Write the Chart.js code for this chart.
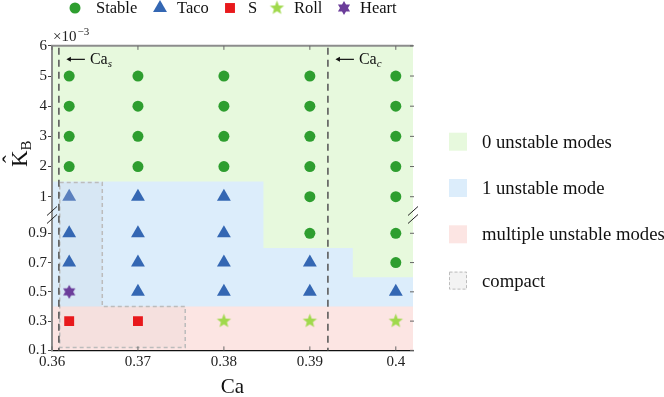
<!DOCTYPE html>
<html>
<head>
<meta charset="utf-8">
<script src="https://cdn.jsdelivr.net/npm/chart.js@4.4.1/dist/chart.umd.min.js"></script>
<style>
  html, body { margin: 0; padding: 0; background: #fff; }
</style>
</head>
<body>
<canvas id="chart" width="664" height="397"></canvas>
<script>
// Ca value and K_B (in units of 1e-3) of every simulated case
const stableCa = [0.362, 0.362, 0.362, 0.362, 0.37, 0.37, 0.37, 0.37, 0.38, 0.38, 0.38, 0.38,
                  0.39, 0.39, 0.39, 0.39, 0.39, 0.39, 0.40, 0.40, 0.40, 0.40, 0.40, 0.40, 0.40];
const stableK  = [2, 3, 4, 5, 2, 3, 4, 5, 2, 3, 4, 5,
                  0.9, 1, 2, 3, 4, 5, 0.7, 0.9, 1, 2, 3, 4, 5];
const tacoCa = [0.362, 0.362, 0.362, 0.37, 0.37, 0.37, 0.37, 0.38, 0.38, 0.38, 0.38, 0.39, 0.39, 0.40];
const tacoK  = [1, 0.9, 0.7, 1, 0.9, 0.7, 0.5, 1, 0.9, 0.7, 0.5, 0.7, 0.5, 0.5];
const sCa = [0.362, 0.37];
const sK  = [0.3, 0.3];
const rollCa = [0.38, 0.39, 0.40];
const rollK  = [0.3, 0.3, 0.3];
const heartCa = [0.362];
const heartK  = [0.5];

// mode regions: green floor steps along Ca, blue above 0.4, red below
const zeroModeCa = [0.36, 0.3846, 0.395, 0.402];
const zeroModeFloorK = [1.5, 0.8, 0.6];
const multiModeTopK = 0.4;
// compact region (L shape)
const compactCa = [0.3609, 0.36585, 0.3755];
const compactK = [1.47, 0.4, 0.12];
const caS = 0.3608;
const caC = 0.3921;

const xTicks = [0.36, 0.37, 0.38, 0.39, 0.40];
const xTickLabels = ['0.36', '0.37', '0.38', '0.39', '0.4'];
const yTicks = [0.1, 0.3, 0.5, 0.7, 0.9, 1, 2, 3, 4, 5, 6];
const yTickLabels = ['0.1', '0.3', '0.5', '0.7', '0.9', '1', '2', '3', '4', '5', '6'];

// broken axis: values below 1 are stretched
const LOW_BOTTOM = -4.094;
const LOW_RATIO = 4.852;
function kAxis(k) {
    return k < 0.95 ? LOW_BOTTOM + (k - 0.1) * LOW_RATIO : k;
}
const BREAK_T = (kAxis(0.9) + 1) / 2;

const SERIF = '"Liberation Serif", "DejaVu Serif", serif';
const C_STABLE = '#2e9e2f';
const C_TACO = '#3467b3';
const C_S = '#e8191c';
const C_ROLL = '#a0d94c';
const C_HEART = '#6b3d9a';
const R_GREEN = '#e7f9dd';
const R_BLUE = '#dcedfb';
const R_RED = '#fce5e3';

function starCanvas(color, points, outer, inner) {
    const s = Math.ceil(outer * 2 + 2);
    const c = document.createElement('canvas');
    c.width = c.height = s;
    const g = c.getContext('2d');
    g.translate(s / 2, s / 2);
    g.beginPath();
    for (let i = 0; i < points * 2; i++) {
        const r = i % 2 ? inner : outer;
        const a = -Math.PI / 2 + i * Math.PI / points;
        g.lineTo(r * Math.cos(a), r * Math.sin(a));
    }
    g.closePath();
    g.fillStyle = color;
    g.fill();
    return c;
}
const rollStar = starCanvas(C_ROLL, 5, 7.5, 3.2);
const heartStar = starCanvas(C_HEART, 6, 7, 4);

function pts(xs, ks) {
    return xs.map((x, i) => ({ x: x, y: kAxis(ks[i]) }));
}

function drawMarker(ctx, style, color, r, x, y) {
    ctx.save();
    ctx.fillStyle = color;
    ctx.beginPath();
    if (style === 'circle') {
        ctx.arc(x, y, r, 0, Math.PI * 2);
        ctx.fill();
    } else if (style === 'triangle') {
        ctx.moveTo(x, y - r);
        ctx.lineTo(x + r * 0.866, y + r / 2);
        ctx.lineTo(x - r * 0.866, y + r / 2);
        ctx.closePath();
        ctx.fill();
    } else if (style === 'rect') {
        const h = r * Math.SQRT1_2;
        ctx.fillRect(x - h, y - h, 2 * h, 2 * h);
    } else {
        ctx.drawImage(style, x - style.width / 2, y - style.height / 2);
    }
    ctx.restore();
}

const decor = {
    id: 'decor',
    beforeDraw(chart) {
        const { ctx, chartArea: a, scales: { x, y } } = chart;
        const px = v => x.getPixelForValue(v);
        const py = k => y.getPixelForValue(kAxis(k));
        ctx.save();
        // one unstable mode everywhere first, then red and green on top
        ctx.fillStyle = R_BLUE;
        ctx.fillRect(a.left, a.top, a.right - a.left, a.bottom - a.top);
        ctx.fillStyle = R_RED;
        ctx.fillRect(a.left, py(multiModeTopK), a.right - a.left, a.bottom - py(multiModeTopK));
        ctx.fillStyle = R_GREEN;
        ctx.beginPath();
        ctx.moveTo(px(zeroModeCa[0]), a.top);
        for (let i = 0; i < zeroModeFloorK.length; i++) {
            ctx.lineTo(px(zeroModeCa[i]), py(zeroModeFloorK[i]));
            ctx.lineTo(px(zeroModeCa[i + 1]), py(zeroModeFloorK[i]));
        }
        ctx.lineTo(px(zeroModeCa[zeroModeCa.length - 1]), a.top);
        ctx.closePath();
        ctx.fill();
        ctx.restore();
    },
    beforeDatasetsDraw(chart) {
        const { ctx, chartArea: a, scales: { x, y } } = chart;
        const px = v => x.getPixelForValue(v);
        const py = k => y.getPixelForValue(kAxis(k));
        ctx.save();
        // compact region
        ctx.beginPath();
        ctx.moveTo(px(compactCa[0]), py(compactK[0]));
        ctx.lineTo(px(compactCa[1]), py(compactK[0]));
        ctx.lineTo(px(compactCa[1]), py(compactK[1]));
        ctx.lineTo(px(compactCa[2]), py(compactK[1]));
        ctx.lineTo(px(compactCa[2]), py(compactK[2]));
        ctx.lineTo(px(compactCa[0]), py(compactK[2]));
        ctx.closePath();
        ctx.fillStyle = 'rgba(170,170,170,0.08)';
        ctx.fill();
        ctx.setLineDash([4, 3]);
        ctx.strokeStyle = '#bcbcbc';
        ctx.lineWidth = 1.5;
        ctx.stroke();

        // Ca_s and Ca_c lines
        ctx.setLineDash([7, 5]);
        ctx.strokeStyle = '#5c5c5c';
        ctx.lineWidth = 1.6;
        [caS, caC].forEach(v => {
            ctx.beginPath();
            ctx.moveTo(px(v), a.top + 2);
            ctx.lineTo(px(v), a.bottom);
            ctx.stroke();
        });
        ctx.setLineDash([]);

        // top spine and inward ticks
        ctx.strokeStyle = '#8c8c8c';
        ctx.lineWidth = 2;
        ctx.beginPath();
        ctx.moveTo(a.left - 1, a.top);
        ctx.lineTo(a.right, a.top);
        ctx.stroke();
        ctx.strokeStyle = '#666';
        ctx.lineWidth = 1;
        xTicks.forEach(v => {
            ctx.beginPath();
            ctx.moveTo(px(v), a.top);
            ctx.lineTo(px(v), a.top + 4);
            ctx.moveTo(px(v), a.bottom);
            ctx.lineTo(px(v), a.bottom - 4);
            ctx.stroke();
        });
        yTicks.forEach(k => {
            ctx.beginPath();
            ctx.moveTo(a.right - 3, py(k));
            ctx.lineTo(a.right + 1, py(k));
            ctx.stroke();
        });
        ctx.restore();
    },
    afterDraw(chart) {
        const { ctx, chartArea: a, scales: { x, y } } = chart;
        const px = v => x.getPixelForValue(v);
        ctx.save();

        // axis break marks
        const yb = y.getPixelForValue(BREAK_T);
        ctx.strokeStyle = '#222';
        ctx.lineWidth = 1;
        [a.left, a.right].forEach(cx => {
            [-4, 4].forEach(dy => {
                ctx.beginPath();
                ctx.moveTo(cx - 5, yb + dy + 4.5);
                ctx.lineTo(cx + 5, yb + dy - 4.5);
                ctx.stroke();
            });
        });

        // Ca_s / Ca_c annotations
        ctx.fillStyle = '#111';
        ctx.strokeStyle = '#111';
        [[caS, 's'], [caC, 'c']].forEach(([v, sub]) => {
            const x0 = px(v);
            const ya = a.top + 13.5;
            ctx.lineWidth = 1.2;
            ctx.beginPath();
            ctx.moveTo(x0 + 26, ya);
            ctx.lineTo(x0 + 10, ya);
            ctx.stroke();
            ctx.beginPath();
            ctx.moveTo(x0 + 7.5, ya);
            ctx.lineTo(x0 + 12, ya - 2.5);
            ctx.lineTo(x0 + 12, ya + 2.5);
            ctx.closePath();
            ctx.fill();
            ctx.textBaseline = 'alphabetic';
            ctx.textAlign = 'left';
            ctx.font = '16px ' + SERIF;
            ctx.fillText('Ca', x0 + 31, ya + 5);
            const w = ctx.measureText('Ca').width;
            ctx.font = 'italic 11px ' + SERIF;
            ctx.fillText(sub, x0 + 31 + w, ya + 8);
        });

        // exponent label
        ctx.fillStyle = '#222';
        ctx.font = '15px ' + SERIF;
        ctx.fillText('\u00d710', a.left + 1, a.top - 5);
        const wx = ctx.measureText('\u00d710').width;
        ctx.font = '11px ' + SERIF;
        ctx.fillText('\u22123', a.left + 1 + wx + 1, a.top - 11);

        // y title: K hat with subscript B
        ctx.save();
        ctx.translate(27, 158);
        ctx.rotate(-Math.PI / 2);
        ctx.fillStyle = '#111';
        ctx.textAlign = 'left';
        ctx.font = '23px ' + SERIF;
        ctx.fillText('K', -9, 0);
        const kw = ctx.measureText('K').width;
        ctx.fillText('\u02c6', -5, -8);
        ctx.font = '15px ' + SERIF;
        ctx.fillText('B', -9 + kw, 4);
        ctx.restore();

        // top legend (markers)
        const top = [
            ['circle', C_STABLE, 5.5, 75, 'Stable', 96],
            ['triangle', C_TACO, 8, 160, 'Taco', 177],
            ['rect', C_S, 7, 230, 'S', 248],
            [rollStar, null, 0, 277, 'Roll', 294],
            [heartStar, null, 0, 344, 'Heart', 360]
        ];
        ctx.font = '16.5px ' + SERIF;
        ctx.textBaseline = 'middle';
        ctx.fillStyle = '#111';
        top.forEach(([st, col, r, mx, label, tx]) => {
            drawMarker(ctx, st, col, r, mx, 8);
            ctx.fillStyle = '#111';
            ctx.fillText(label, tx, 9);
        });

        // right legend (regions)
        const right = [
            [R_GREEN, '0 unstable modes'],
            [R_BLUE, '1 unstable mode'],
            [R_RED, 'multiple unstable modes'],
            ['#f3f3f3', 'compact']
        ];
        ctx.font = '18.7px ' + SERIF;
        right.forEach(([col, label], i) => {
            const cy = 141.7 + i * 46.3;
            ctx.fillStyle = col;
            ctx.fillRect(449, cy - 9, 18, 18);
            if (label === 'compact') {
                ctx.setLineDash([3, 2]);
                ctx.strokeStyle = '#bdbdbd';
                ctx.lineWidth = 1;
                ctx.strokeRect(449.5, cy - 8.5, 17, 17);
                ctx.setLineDash([]);
            }
            ctx.fillStyle = '#111';
            ctx.fillText(label, 482, cy + 1);
        });
        ctx.restore();
    }
};

new Chart(document.getElementById('chart'), {
    type: 'scatter',
    data: {
        datasets: [
            { label: 'Stable', data: pts(stableCa, stableK), pointStyle: 'circle',
              pointRadius: 5.5, backgroundColor: C_STABLE, borderWidth: 0 },
            { label: 'Taco', data: pts(tacoCa, tacoK), pointStyle: 'triangle', pointRadius: 8,
              backgroundColor: c => (c.dataIndex === 0 ? '#5b80be' : C_TACO), borderWidth: 0 },
            { label: 'S', data: pts(sCa, sK), pointStyle: 'rect', pointRadius: 7,
              backgroundColor: C_S, borderWidth: 0 },
            { label: 'Roll', data: pts(rollCa, rollK), pointStyle: rollStar, pointRadius: 7,
              backgroundColor: C_ROLL, borderWidth: 0 },
            { label: 'Heart', data: pts(heartCa, heartK), pointStyle: heartStar, pointRadius: 7,
              backgroundColor: C_HEART, borderWidth: 0 }
        ]
    },
    options: {
        responsive: false,
        animation: false,
        events: [],
        layout: { padding: { left: 0, top: 45.85, right: 251, bottom: 0 } },
        plugins: { legend: { display: false }, tooltip: { enabled: false } },
        scales: {
            x: {
                type: 'linear',
                min: 0.36,
                max: 0.402,
                afterBuildTicks: s => { s.ticks = xTicks.map(v => ({ value: v })); },
                afterFit: s => { s.height = 46.6; },
                ticks: {
                    callback: (v, i) => xTickLabels[i],
                    font: { family: SERIF, size: 15 },
                    color: '#222',
                    padding: 3,
                    maxRotation: 0,
                    autoSkip: false
                },
                grid: { display: false, drawTicks: false },
                border: { color: '#111', width: 1.3 },
                title: {
                    display: true,
                    text: 'Ca',
                    color: '#111',
                    font: { family: SERIF, size: 21, lineHeight: 1 },
                    padding: { top: 0, bottom: -1 }
                }
            },
            y: {
                type: 'linear',
                min: LOW_BOTTOM,
                max: 6,
                afterBuildTicks: s => { s.ticks = yTicks.map(v => ({ value: kAxis(v) })); },
                afterFit: s => { s.width = 52; },
                ticks: {
                    callback: (v, i) => yTickLabels[i],
                    font: { family: SERIF, size: 15 },
                    color: '#222',
                    padding: 1,
                    autoSkip: false
                },
                grid: { display: true, drawOnChartArea: false, drawTicks: true, tickLength: 4, color: '#444' },
                border: { color: '#8c8c8c', width: 2 }
            }
        }
    },
    plugins: [decor]
});
</script>
</body>
</html>
